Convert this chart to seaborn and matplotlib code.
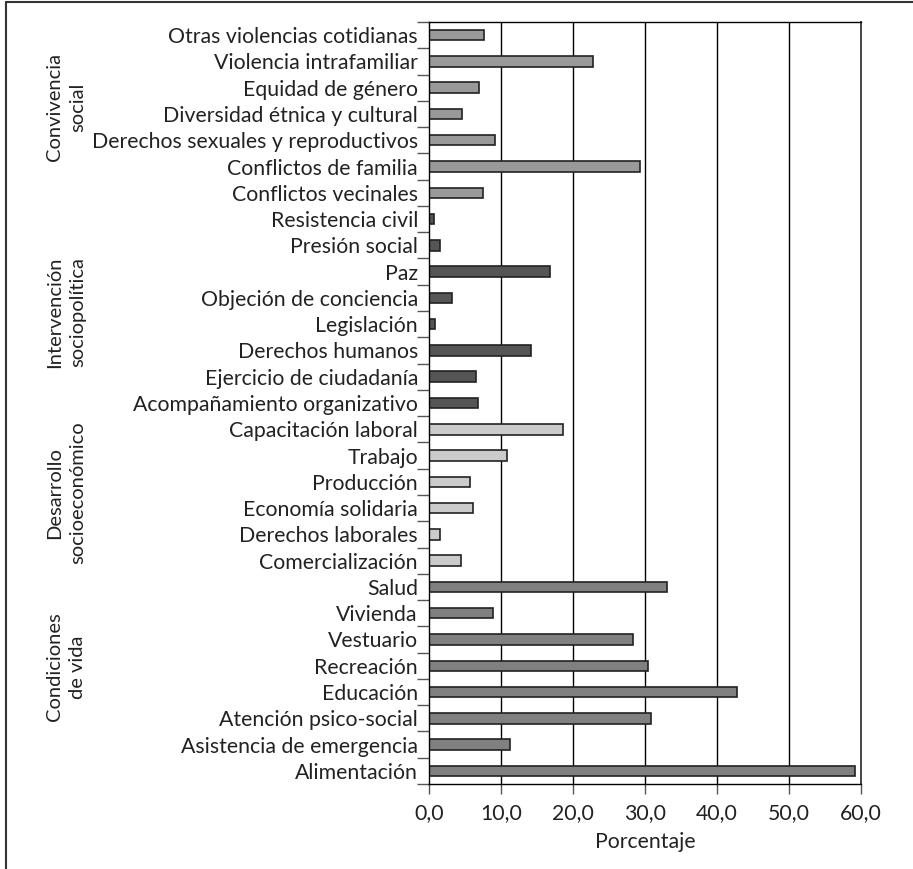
import pandas as pd
import seaborn as sns
from matplotlib import pyplot as plt
from matplotlib import ticker as ticktools
from matplotlib.lines import Line2D

# data, read top to bottom off the chart
convivencia = ["Otras violencias cotidianas", "Violencia intrafamiliar", "Equidad de género",
               "Diversidad étnica y cultural", "Derechos sexuales y reproductivos",
               "Conflictos de familia", "Conflictos vecinales"]
convivencia_vals = [7.6, 22.8, 6.9, 4.6, 9.1, 29.3, 7.5]

intervencion = ["Resistencia civil", "Presión social", "Paz", "Objeción de conciencia",
                "Legislación", "Derechos humanos", "Ejercicio de ciudadanía",
                "Acompañamiento organizativo"]
intervencion_vals = [0.75, 1.5, 16.8, 3.15, 0.9, 14.1, 6.5, 6.8]

desarrollo = ["Capacitación laboral", "Trabajo", "Producción", "Economía solidaria",
              "Derechos laborales", "Comercialización"]
desarrollo_vals = [18.6, 10.8, 5.75, 6.15, 1.5, 4.4]

condiciones = ["Salud", "Vivienda", "Vestuario", "Recreación", "Educación",
               "Atención psico-social", "Asistencia de emergencia", "Alimentación"]
condiciones_vals = [33.0, 8.9, 28.4, 30.4, 42.8, 30.9, 11.2, 59.2]

groups = ["Convivencia\nsocial", "Intervención\nsociopolítica",
          "Desarrollo\nsocioeconómico", "Condiciones\nde vida"]
group_colors = ["#999999", "#555555", "#cbcbcb", "#808080"]
group_label_y = [107, 312, 493, 667]  # pixel centre of each rotated label

rows = []
for g, cats, vals in zip(groups, [convivencia, intervencion, desarrollo, condiciones],
                         [convivencia_vals, intervencion_vals, desarrollo_vals, condiciones_vals]):
  for c, v in zip(cats, vals):
    rows.append({"Tema": c, "Porcentaje": v, "Grupo": g})
df = pd.DataFrame(rows)

sns.set_style("white")
plt.rcParams['font.family'] = ['Lato', 'DejaVu Sans']

W, H = 913, 869
fig = plt.figure(figsize=(W / 100, H / 100), dpi=100)
ax = fig.add_axes([429 / W, 1 - 784 / H, (861 - 429) / W, (784 - 22) / H])

ax.set_axisbelow(True)
for v in range(10, 60, 10):
  ax.axvline(v, color="black", lw=1.0, zorder=0)

sns.barplot(data=df, x="Porcentaje", y="Tema", hue="Grupo", palette=group_colors,
            dodge=False, width=0.4, edgecolor="#222222", linewidth=1.2,
            legend=False, ax=ax, zorder=2)

n = len(df)
ax.set_xlim(0, 60)
ax.set_ylim(n - 0.5, -0.5)
ax.xaxis.set_major_locator(ticktools.MultipleLocator(10))
ax.xaxis.set_major_formatter(ticktools.FuncFormatter(lambda x, p: f"{x:.1f}".replace(".", ",")))
ax.yaxis.set_minor_locator(ticktools.FixedLocator([i - 0.5 for i in range(n + 1)]))

for s in ax.spines.values():
  s.set_color("black")
  s.set_linewidth(1.0)
ax.spines["right"].set_color("#444444")
ax.spines["right"].set_linewidth(1.4)

ax.tick_params(axis="y", which="major", length=0, pad=8, labelsize=15.3, colors="#222222")
ax.tick_params(axis="y", which="minor", length=9, width=1.0, color="#555555", left=True)
ax.tick_params(axis="x", which="major", length=7, width=1.0, color="#555555", bottom=True,
               labelsize=15.3, labelcolor="#222222", pad=7)
ax.set_ylabel("")
ax.set_xlabel("Porcentaje", fontsize=15.3, color="#222222", labelpad=6)

for g, yp in zip(groups, group_label_y):
  fig.text(66 / W, 1 - yp / H, g, rotation=90, ha="center", va="center",
           multialignment="center", fontsize=14.5, color="#222222", linespacing=1.45)

# outer frame: left and top edges
fig.add_artist(Line2D([5.5 / W, 5.5 / W], [0, 1 - 2 / H], color="#333333", lw=1.5))
fig.add_artist(Line2D([5.5 / W, 1], [1 - 2 / H, 1 - 2 / H], color="#333333", lw=1.5))

fig.savefig("out.png", dpi=100)
